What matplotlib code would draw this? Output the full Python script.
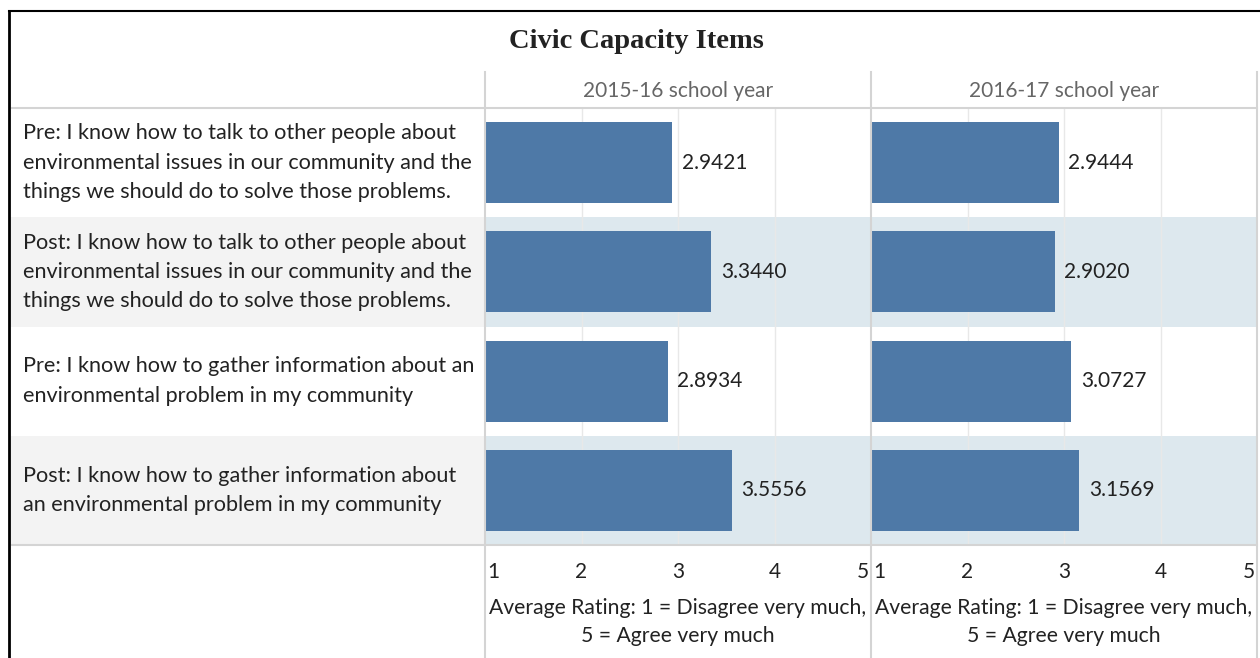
import matplotlib.pyplot as plt
from matplotlib.lines import Line2D

items = [
    "Pre: I know how to talk to other people about\nenvironmental issues in our community and the\nthings we should do to solve those problems.",
    "Post: I know how to talk to other people about\nenvironmental issues in our community and the\nthings we should do to solve those problems.",
    "Pre: I know how to gather information about an\nenvironmental problem in my community",
    "Post: I know how to gather information about\nan environmental problem in my community",
]
years = ["2015-16 school year", "2016-17 school year"]
vals_1516 = [2.9421, 3.3440, 2.8934, 3.5556]
vals_1617 = [2.9444, 2.9020, 3.0727, 3.1569]
ticks = [1, 2, 3, 4, 5]
axis_title = "Average Rating: 1 = Disagree very much,\n5 = Agree very much"

W, H = 1260, 658
FONT = "Lato"
bar_color = "#4e79a7"
band_panel = "#dde8ee"
band_label = "#f3f3f3"
line_col = "#d4d4d4"

fig = plt.figure(figsize=(W / 100, H / 100), dpi=100)


def fx(px):
    return px / W


def fy(py):
    return 1 - py / H


top, bot = 108, 545
rows = len(items)

# row label area
lab = fig.add_axes([fx(10), fy(bot), fx(485 - 10), fy(top) - fy(bot)])
lab.set_xlim(0, 1)
lab.set_ylim(rows - 0.5, -0.5)
for i, txt in enumerate(items):
    if i % 2 == 1:
        lab.axhspan(i - 0.5, i + 0.5, color=band_label, lw=0)
    lab.text(0.028, i, txt, va="center", ha="left", fontsize=15.6,
             family=FONT, color="#222222", linespacing=1.58)
lab.axis("off")

panels = [(485, vals_1516, years[0]), (871, vals_1617, years[1])]
for x0, vals, yr in panels:
    ax = fig.add_axes([fx(x0), fy(bot), fx(386), fy(top) - fy(bot)])
    ax.set_xlim(1, 5)
    ax.set_ylim(rows - 0.5, -0.5)
    for i in range(rows):
        if i % 2 == 1:
            ax.axhspan(i - 0.5, i + 0.5, color=band_panel, lw=0, zorder=0)
    for t in ticks[1:-1]:
        ax.axvline(t, color="#e8e8e8", lw=1, zorder=1)
    ax.barh(range(rows), [v - 1 for v in vals], left=1, height=0.74,
            color=bar_color, zorder=2)
    for i, v in enumerate(vals):
        ax.text(v + 0.1, i, f"{v:.4f}", va="center", ha="left",
                fontsize=15, family=FONT, color="#222222", zorder=3)
    ax.axis("off")
    # tick labels
    for t in ticks:
        ha = "left" if t == ticks[0] else ("right" if t == ticks[-1] else "center")
        off = 0.02 if t == ticks[0] else (-0.02 if t == ticks[-1] else 0)
        ax.text(t + off, -0.04, str(t), transform=ax.get_xaxis_transform(),
                ha=ha, va="top", fontsize=15, family=FONT, color="#222222")
    ax.text(0.5, -0.122, axis_title, transform=ax.transAxes, ha="center",
            va="top", fontsize=15.2, family=FONT, color="#222222",
            linespacing=1.45)
    # header
    fig.text(fx(x0 + 193), fy(91), yr, ha="center", va="center",
             fontsize=15, family=FONT, color="#666666")

# separators
for x in [485, 871, 1257]:
    fig.add_artist(Line2D([fx(x), fx(x)], [fy(72), 0], color=line_col, lw=1.5))
for y in [top, bot]:
    fig.add_artist(Line2D([fx(12), fx(1257)], [fy(y), fy(y)], color=line_col, lw=1.5))

# outer border
fig.add_artist(Line2D([fx(9), fx(9)], [fy(11), 0], color="black", lw=2))
fig.add_artist(Line2D([fx(9), 1], [fy(11), fy(11)], color="black", lw=1.5))

fig.text(fx(636), fy(42), "Civic Capacity Items", ha="center", va="center",
         fontsize=20.5, fontweight="bold", family="Liberation Serif", color="#222222")

fig.savefig("out.png", dpi=100)
